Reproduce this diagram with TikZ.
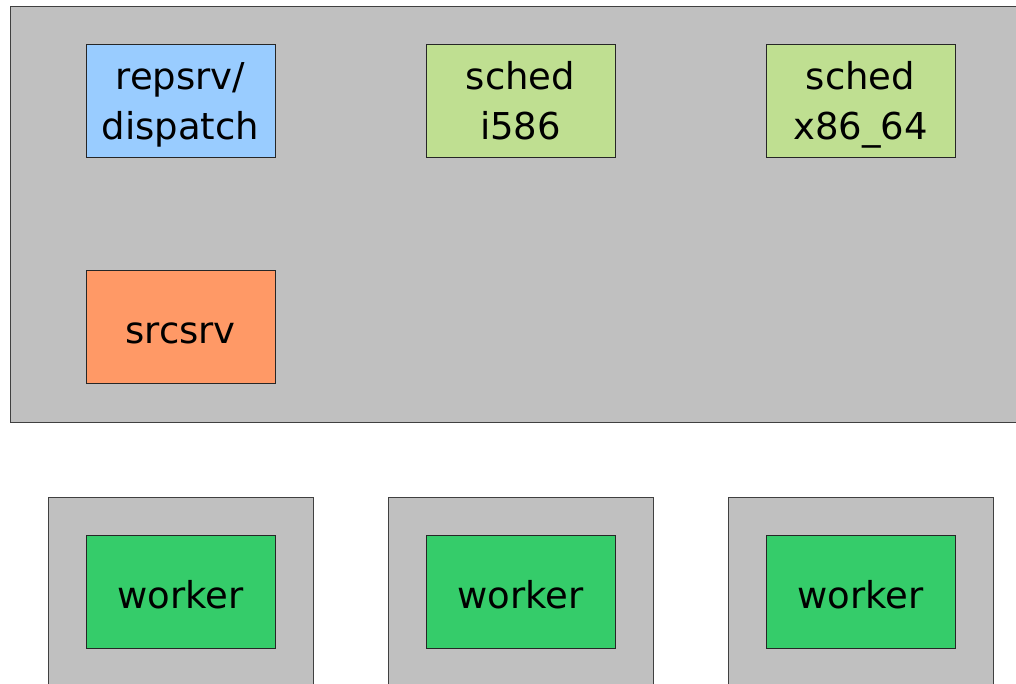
\documentclass[tikz,border=0pt]{standalone}
\usepackage{fontspec}
\setmainfont{DejaVu Sans}
\begin{document}
\begin{tikzpicture}[x=1pt,y=-1pt,
  frame/.style={draw=black!75,fill=frameg,line width=0.9pt},
  box/.style={draw=black!85,line width=0.8pt,minimum width=189pt,minimum height=113pt,inner sep=0pt},
  txt/.style={anchor=base,inner sep=0pt,font=\fontsize{37}{50}\selectfont,text=black},
  ]
\definecolor{frameg}{HTML}{C0C0C0}
\definecolor{blueq}{HTML}{99CCFF}
\definecolor{schedg}{HTML}{BFDF91}
\definecolor{srcor}{HTML}{FF9966}
\definecolor{workg}{HTML}{35CC6A}
\useasboundingbox (0,0) rectangle (1016,683);
\clip (0,0) rectangle (1016,683);
\draw[frame] (10,6) rectangle (1030,422);
\draw[frame] (48,497) rectangle (313,700);
\draw[frame] (388,497) rectangle (653,700);
\draw[frame] (728,497) rectangle (993,700);
\node[box,fill=blueq] (rep) at (180.5,100.5) {};
\node[box,fill=schedg] (s1) at (520.5,100.5) {};
\node[box,fill=schedg] (s2) at (860.5,100.5) {};
\node[box,fill=srcor] (src) at (180.5,327) {};
\node[box,fill=workg] (w1) at (180.5,591.5) {};
\node[box,fill=workg] (w2) at (520.5,591.5) {};
\node[box,fill=workg] (w3) at (860.5,591.5) {};
\node[txt] (repa) at (180.5,89) {repsrv/};
\node[txt] (repb) at (180.5,139) {dispatch};
\node[txt] (s1a) at (520.5,89) {sched};
\node[txt] (s1b) at (520.5,139) {i586};
\node[txt] (s2a) at (860.5,89) {sched};
\node[txt] (s2b) at (860.5,139) {x86\_64};
\node[txt] (srct) at (180.5,343.5) {srcsrv};
\node[txt] (w1t) at (180.5,608) {worker};
\node[txt] (w2t) at (520.5,608) {worker};
\node[txt] (w3t) at (860.5,608) {worker};
\end{tikzpicture}
\end{document}
